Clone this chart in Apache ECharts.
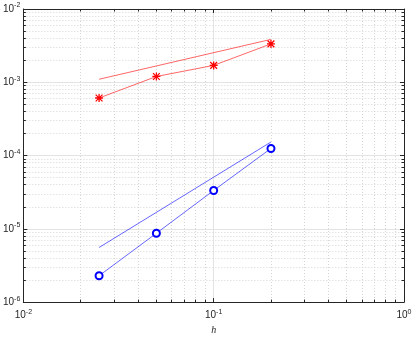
<!DOCTYPE html>
<html>
<head>
<meta charset="utf-8">
<script src="https://cdn.jsdelivr.net/npm/echarts@6/dist/echarts.min.js"></script>
<style>
  html, body { margin: 0; padding: 0; background: #fff; }
  #chart { width: 415px; height: 340px; }
</style>
</head>
<body>
<div id="chart"></div>
<script>
const hValues = [0.025, 0.05, 0.1, 0.2];
const errRed = [6.1e-4, 1.2e-3, 1.7e-3, 3.34e-3];
const errBlue = [2.29e-6, 8.7e-6, 3.34e-5, 1.25e-4];
const refH = [0.025, 0.2];
const refRed = [1.1e-3, 3.85e-3];
const refBlue = [5.56e-6, 1.53e-4];

const axisColor = '#262626';
// MATLAB-like '*' marker
const asterisk = 'path://M4.2 0h1.6v10h-1.6z M0 4.2h10v1.6h-10z M1.3 0.2L9.8 8.7L8.7 9.8L0.2 1.3z M8.7 0.2L9.8 1.3L1.3 9.8L0.2 8.7z';

const pow10Label = v => {
  const e = Math.round(Math.log10(v));
  return '{b|10}{s|' + e + '}';
};
const labelRich = {
  b: { fontSize: 10, color: axisColor, fontFamily: 'Liberation Sans' },
  s: { fontSize: 7, color: axisColor, fontFamily: 'Liberation Sans', padding: [0, 0, 7, 0] }
};

const pairs = (xs, ys) => xs.map((x, i) => [x, ys[i]]);

const baseLog = (extra) => Object.assign({
  type: 'log',
  logBase: 10,
  axisLine: { show: true, onZero: false, lineStyle: { color: axisColor, width: 1 } },
  axisTick: { show: true, inside: true, length: 4, lineStyle: { color: axisColor } },
  minorTick: { show: true, splitNumber: 9, length: 2.5, lineStyle: { color: axisColor } },
}, extra);

const chart = echarts.init(document.getElementById('chart'));
chart.setOption({
  animation: false,
  grid: { left: 23, right: 11, top: 9, bottom: 30, containLabel: false },
  xAxis: [
    baseLog({
      min: 0.01, max: 1,
      name: 'h', nameLocation: 'middle', nameGap: 20,
      nameTextStyle: { fontStyle: 'italic', fontSize: 10, color: axisColor, fontFamily: 'Liberation Serif' },
      axisLabel: { formatter: pow10Label, rich: labelRich, margin: 6 },
      splitLine: { show: true, lineStyle: { color: '#e3e3e3', width: 1 } },
      minorSplitLine: { show: true, lineStyle: { color: '#d6d6d6', type: [1, 2], width: 1 } }
    }),
    baseLog({
      min: 0.01, max: 1, position: 'top',
      axisLabel: { show: false },
      splitLine: { show: false }
    })
  ],
  yAxis: [
    baseLog({
      min: 1e-6, max: 1e-2,
      axisLabel: { formatter: pow10Label, rich: labelRich, margin: 3 },
      splitLine: { show: true, lineStyle: { color: '#e3e3e3', width: 1 } },
      minorSplitLine: { show: true, lineStyle: { color: '#d6d6d6', type: [1, 2], width: 1 } }
    }),
    baseLog({
      min: 1e-6, max: 1e-2, position: 'right',
      axisLabel: { show: false },
      splitLine: { show: false }
    })
  ],
  series: [
    {
      type: 'line', data: pairs(hValues, errRed),
      symbol: asterisk, symbolSize: 8,
      itemStyle: { color: '#ff0000' },
      lineStyle: { color: '#ff0000', width: 1, opacity: 0.6 }
    },
    {
      type: 'line', data: pairs(refH, refRed),
      symbol: 'none',
      lineStyle: { color: '#ff0000', width: 1, opacity: 0.6 }
    },
    {
      type: 'line', data: pairs(hValues, errBlue),
      symbol: 'emptyCircle', symbolSize: 7,
      itemStyle: { color: '#0000ff', borderWidth: 1 },
      lineStyle: { color: '#0000ff', width: 1, opacity: 0.6 }
    },
    {
      type: 'line', data: pairs(refH, refBlue),
      symbol: 'none',
      lineStyle: { color: '#0000ff', width: 1, opacity: 0.6 }
    }
  ]
});
</script>
</body>
</html>
